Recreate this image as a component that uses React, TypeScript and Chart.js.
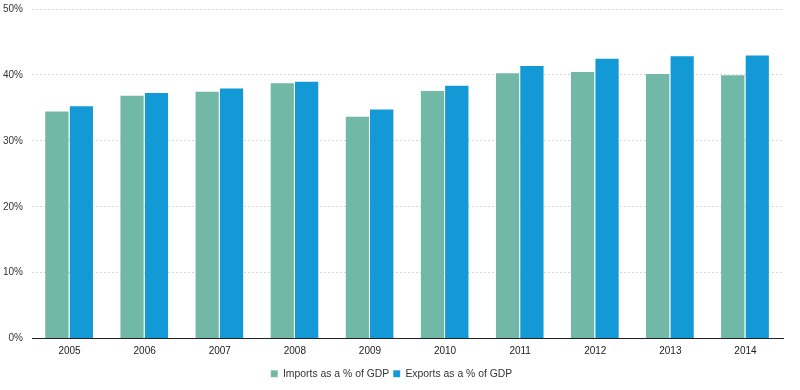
import React, { useEffect, useRef } from "react";
import { Chart, registerables } from "chart.js";

Chart.register(...registerables);

const years = ["2005", "2006", "2007", "2008", "2009", "2010", "2011", "2012", "2013", "2014"];
const importsPct = [34.6, 37.0, 37.6, 38.9, 33.8, 37.7, 40.4, 40.6, 40.3, 40.1];
const exportsPct = [35.4, 37.4, 38.1, 39.1, 34.9, 38.5, 41.5, 42.6, 43.0, 43.1];
const yTicks = [0, 10, 20, 30, 40, 50];

export default function App() {
  const ref = useRef<HTMLCanvasElement | null>(null);
  useEffect(() => {
    if (!ref.current) return;
    const family = "'Liberation Sans', Arial, sans-serif";
    const tickFont = { family, size: 10 };
    const legendFont = { family, size: 10.4 };
    const chart = new Chart(ref.current, {
      type: "bar",
      data: {
        labels: years,
        datasets: [
          {
            label: "Imports as a % of GDP",
            data: importsPct,
            backgroundColor: "#72b8a6",
            borderColor: "rgba(255,255,255,0.3)",
            borderWidth: { top: 1, right: 1, left: 0, bottom: 0 },
          },
          {
            label: "Exports as a % of GDP",
            data: exportsPct,
            backgroundColor: "#1399d6",
            borderColor: "rgba(255,255,255,0.3)",
            borderWidth: { top: 1, right: 1, left: 0, bottom: 0 },
          },
        ],
      },
      options: {
        animation: false,
        responsive: false,
        maintainAspectRatio: false,
        layout: { padding: { top: 9, right: 17, left: 0, bottom: 1 } },
        datasets: { bar: { categoryPercentage: 0.65, barPercentage: 1.0 } },
        plugins: {
          tooltip: { enabled: false },
          legend: {
            position: "bottom",
            labels: {
              boxWidth: 7,
              boxHeight: 7,
              padding: 4,
              color: "#333",
              font: legendFont,
            },
          },
        },
        scales: {
          x: {
            grid: { display: false, drawTicks: false },
            border: { display: true, color: "#222", width: 1 },
            ticks: { color: "#222", font: tickFont, padding: 7 },
          },
          y: {
            min: 0,
            max: 50,
            afterFit: (s: any) => {
              s.width = 32;
              s.paddingTop = 0;
              s.paddingBottom = 0;
            },
            afterBuildTicks: (s: any) => {
              s.ticks = yTicks.map((v) => ({ value: v }));
            },
            grid: { color: "#d6d6d6", lineWidth: 1, drawTicks: false },
            border: { display: false, dash: [2, 2] },
            ticks: {
              color: "#333",
              font: tickFont,
              padding: 9,
              callback: (v: any) => v + "%",
            },
          },
        },
      },
    });
    return () => chart.destroy();
  }, []);
  return (
    <div style={{ position: "fixed", left: 0, top: 0, width: 800, height: 390, background: "#fff" }}>
      <canvas ref={ref} width={800} height={390} style={{ width: 800, height: 390 }} />
    </div>
  );
}
